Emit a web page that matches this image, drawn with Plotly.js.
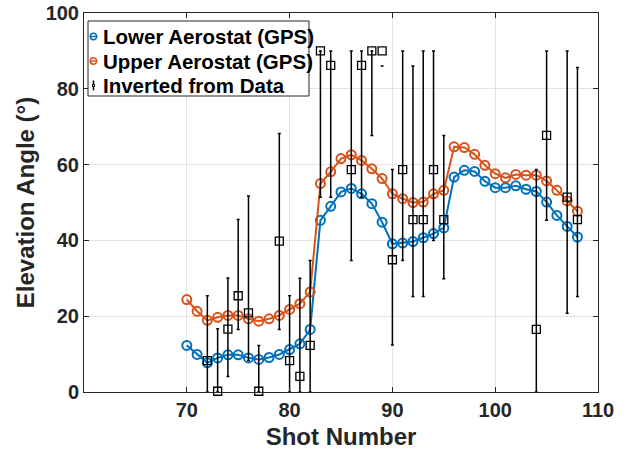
<!DOCTYPE html>
<html>
<head>
<meta charset="utf-8">
<script src="https://cdn.plot.ly/plotly-3.0.1.min.js"></script>
<style>html,body{margin:0;padding:0;background:#fff;}#chart{width:625px;height:450px;}</style>
</head>
<body>
<div id="chart"></div>
<script>
// Shot numbers for the GPS series
var shots = [70,71,72,73,74,75,76,77,78,79,80,81,82,83,84,85,86,87,88,89,90,91,92,93,94,95,96,97,98,99,100,101,102,103,104,105,106,107,108];
// Lower Aerostat (GPS) elevation angle
var lowerAngle = [12.3,9.9,7.7,9.0,9.8,9.8,9.0,8.6,9.1,9.9,11.2,12.7,16.5,45.3,49.0,52.8,53.7,52.3,49.7,44.8,39.1,39.3,39.7,40.7,41.8,43.3,56.7,58.5,58.2,55.6,53.9,53.9,54.4,53.5,52.9,50.1,46.6,43.7,40.9];
// Upper Aerostat (GPS) elevation angle
var upperAngle = [24.4,21.3,18.9,19.7,20.2,20.2,19.3,18.7,19.3,20.2,21.8,23.3,26.4,55.0,58.1,61.6,62.6,61.1,58.9,56.3,52.3,51.0,50.0,50.1,52.3,53.2,64.7,64.5,62.7,59.8,57.6,56.5,57.4,57.2,57.2,55.7,53.2,50.4,47.7];
// Inverted from data: shot, value, upper bound, lower bound
var invShots = [72,73,74,75,76,77,79,80,81,82,83,84,86,87,88,89,90,91,92,93,94,95,104,105,107,108];
var invAngle = [8.3,0.2,16.6,25.4,20.9,0.2,39.8,8.3,4.1,12.3,90,86.2,58.7,86.2,90,90,34.9,58.7,45.5,45.5,58.7,45.5,16.5,67.7,51.4,45.5];
var invHigh  = [25.4,16.7,30.1,45.5,51.7,12.3,68.2,25.4,30.0,34.7,90,90,90,90,90,86.0,58.7,90,86.0,90,90,67.7,58.7,90,90,85.6];
var invLow   = [0,0,4.1,16.5,8.3,0,16.5,0,0,0,51.4,51.4,34.7,51.4,67.7,86.0,12.4,34.7,25.2,25.2,40.0,29.9,0,45.3,20.8,25.2];
// Axis ticks
var xTicks = [70,80,90,100,110];
var yTicks = [0,20,40,60,80,100];
var legendLabels = ["Lower Aerostat (GPS)","Upper Aerostat (GPS)","Inverted from Data"];

var BLUE = '#0072BD', ORANGE = '#D95319';
var FONT = 'Liberation Sans, Arial, Helvetica, sans-serif';

var errPlus = invHigh.map(function(h,i){return h - invAngle[i];});
var errMinus = invLow.map(function(l,i){return invAngle[i] - l;});

var traces = [
  {x: shots, y: lowerAngle, type:'scatter', mode:'lines+markers', name: legendLabels[0],
   line:{color:BLUE, width:2}, marker:{symbol:'circle-open', size:9, color:BLUE, line:{width:2}}, showlegend:false},
  {x: shots, y: upperAngle, type:'scatter', mode:'lines+markers', name: legendLabels[1],
   line:{color:ORANGE, width:2}, marker:{symbol:'circle-open', size:9, color:ORANGE, line:{width:2}}, showlegend:false},
  {x: invShots, y: invAngle, type:'scatter', mode:'markers', name: legendLabels[2], cliponaxis:false,
   marker:{symbol:'square-open', size:8, color:'#000', line:{width:1.3}},
   error_y:{type:'data', symmetric:false, array: errPlus, arrayminus: errMinus, color:'#000', thickness:1.5, width:1.5},
   showlegend:false}
];

// plot area in pixels
var L = 84, R = 598, T = 13, B = 392;
function px(xp){return (xp - L)/(R - L);}
function py(yp){return (B - yp)/(B - T);}

var legRows = [36.5, 61, 85.5];
var annotations = legendLabels.map(function(t,i){
  return {xref:'paper', yref:'paper', x: px(100.5), y: py(legRows[i]), xanchor:'left', yanchor:'middle',
          text: t, showarrow:false, font:{family:FONT, size:20.5, color:'#000', weight:'bold'}};
});

var shapes = [
  {type:'rect', xref:'paper', yref:'paper', x0: px(88), x1: px(309), y0: py(96), y1: py(21),
   line:{color:'#262626', width:1}, fillcolor:'#fff', layer:'above'}
];
[[BLUE,0],[ORANGE,1]].forEach(function(c){
  var ya = py(legRows[c[1]]), xa = px(93.5);
  shapes.push({type:'circle', xref:'paper', yref:'paper', xsizemode:'pixel', ysizemode:'pixel',
    xanchor: xa, yanchor: ya, x0:-3.2, x1:3.2, y0:-3.2, y1:3.2, line:{color:c[0], width:1.6}, layer:'above'});
  shapes.push({type:'line', xref:'paper', yref:'paper', xsizemode:'pixel', ysizemode:'pixel',
    xanchor: xa, yanchor: ya, x0:-3, x1:3, y0:0, y1:0, line:{color:c[0], width:1.4}, layer:'above'});
});
(function(){
  var ya = py(legRows[2]), xa = px(93.5);
  shapes.push({type:'line', xref:'paper', yref:'paper', xsizemode:'pixel', ysizemode:'pixel',
    xanchor: xa, yanchor: ya, x0:0, x1:0, y0:-5, y1:5, line:{color:'#000', width:1.5}, layer:'above'});
  shapes.push({type:'rect', xref:'paper', yref:'paper', xsizemode:'pixel', ysizemode:'pixel',
    xanchor: xa, yanchor: ya, x0:-1, x1:1, y0:-1, y1:1, line:{color:'#000', width:1}, fillcolor:'#fff', layer:'above'});
})();

var axisCommon = {
  showgrid:true, gridcolor:'#e3e3e3', gridwidth:1, zeroline:false,
  showline:true, linecolor:'#262626', linewidth:1, mirror:'ticks',
  ticks:'inside', ticklen:5, tickcolor:'#262626', tickwidth:1,
  tickfont:{family:FONT, size:20, color:'#262626', weight:'bold'}
};

var layout = {
  width:625, height:450,
  margin:{l:L, r:625-R, t:T, b:450-B, pad:0},
  paper_bgcolor:'#fff', plot_bgcolor:'#fff',
  showlegend:false,
  xaxis: Object.assign({}, axisCommon, {range:[60,110], tickmode:'array', tickvals:xTicks,
    title:{text:'Shot Number', font:{family:FONT, size:24, color:'#262626', weight:'bold'}, standoff:9}}),
  yaxis: Object.assign({}, axisCommon, {range:[0,100], tickmode:'array', tickvals:yTicks,
    title:{text:'Elevation Angle (°)', font:{family:FONT, size:24, color:'#262626', weight:'bold'}, standoff:4}}),
  annotations: annotations,
  shapes: shapes
};

Plotly.newPlot('chart', traces, layout, {staticPlot:true, displayModeBar:false});
</script>
</body>
</html>
